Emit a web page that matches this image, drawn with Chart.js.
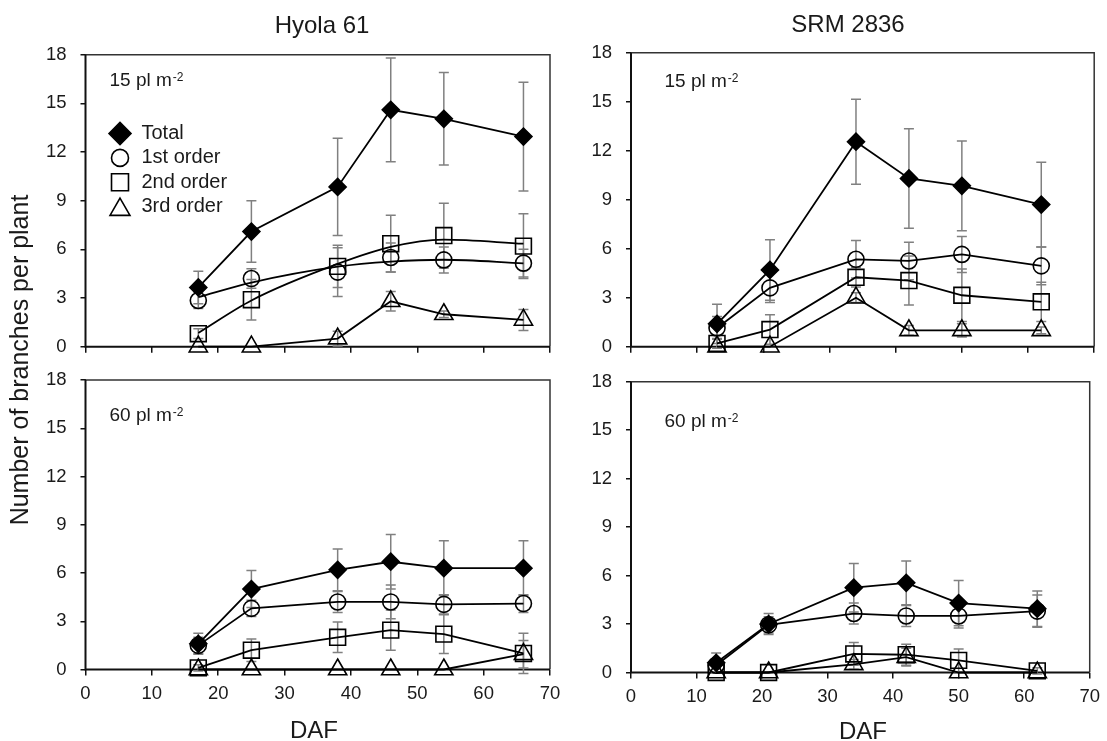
<!DOCTYPE html>
<html>
<head>
<meta charset="utf-8">
<title>Branch number per plant</title>
<script src="https://cdn.jsdelivr.net/npm/chart.js@4/dist/chart.umd.min.js"></script>
<style>
  html, body { margin: 0; padding: 0; background: #fff; }
  #wrap { position: relative; width: 1107px; height: 741px; }
  #wrap canvas { position: absolute; left: 0; top: 0; pointer-events: none; }
</style>
</head>
<body>
<div id="wrap">
  <canvas id="hyola15" width="1107" height="741"></canvas>
  <canvas id="srm15" width="1107" height="741"></canvas>
  <canvas id="hyola60" width="1107" height="741"></canvas>
  <canvas id="srm60" width="1107" height="741"></canvas>
</div>
<script>
// ---- sampling dates (days after flowering) ----
const dafHyola = [17, 25, 38, 46, 54, 66];
const dafSRM   = [13, 21, 34, 42, 50, 62];

// ---- axis tick labels ----
const xTickValues = [0, 10, 20, 30, 40, 50, 60, 70];
const yTickValues = [0, 3, 6, 9, 12, 15, 18];

// ---- Hyola 61, 15 pl m-2 ----
const hyola15Total     = [3.65, 7.1, 9.85, 14.6, 14.05, 12.95];
const hyola15TotalErr  = [1.0, 1.9, 3.0, 3.2, 2.85, 3.35];
const hyola15First     = [2.85, 4.2, 4.6, 5.5, 5.35, 5.15];
const hyola15FirstErr  = [0.5, 0.6, 1.5, 0.9, 0.8, 0.85];
const hyola15Second    = [0.8, 2.9, 4.95, 6.35, 6.85, 6.2];
const hyola15SecondErr = [0.3, 1.25, 1.3, 1.75, 2.0, 2.0];
const hyola15Third     = [0, 0, 0.5, 2.8, 2.0, 1.65];
const hyola15ThirdErr  = [0, 0, 0.45, 0.6, 0.2, 0.65];
// fitted trend curves for 1st and 2nd order branches
const hyola15FirstFit  = [3.05, 3.95, 4.93, 5.24, 5.36, 5.14];
const hyola15SecondFit = [0.85, 2.85, 5.1, 6.15, 6.6, 6.35];

// ---- SRM 2836, 15 pl m-2 ----
const srm15Total     = [1.4, 4.7, 12.55, 10.3, 9.85, 8.7];
const srm15TotalErr  = [1.2, 1.85, 2.6, 3.05, 2.75, 2.6];
const srm15First     = [1.15, 3.6, 5.35, 5.25, 5.65, 4.95];
const srm15FirstErr  = [0.7, 0.9, 1.15, 1.15, 1.1, 1.15];
const srm15Second    = [0.2, 1.05, 4.25, 4.05, 3.15, 2.75];
const srm15SecondErr = [0.3, 0.9, 0.6, 1.5, 1.6, 1.2];
const srm15Third     = [0, 0, 3.0, 1.0, 1.0, 1.0];
const srm15ThirdErr  = [0, 0, 0.3, 0.3, 0.4, 0.2];

// ---- Hyola 61, 60 pl m-2 ----
const hyola60Total     = [1.6, 5.0, 6.2, 6.7, 6.3, 6.3];
const hyola60TotalErr  = [0.65, 1.15, 1.3, 1.7, 1.7, 1.7];
const hyola60First     = [1.5, 3.8, 4.2, 4.2, 4.05, 4.1];
const hyola60FirstErr  = [0.5, 0.5, 0.65, 1.05, 0.6, 0.55];
const hyola60Second    = [0.1, 1.2, 2.0, 2.45, 2.2, 1.0];
const hyola60SecondErr = [0.2, 0.7, 0.95, 1.25, 1.2, 1.25];
const hyola60Third     = [0, 0, 0, 0, 0, 0.95];
const hyola60ThirdErr  = [0, 0, 0, 0, 0, 0.85];

// ---- SRM 2836, 60 pl m-2 ----
const srm60Total     = [0.6, 3.0, 5.25, 5.55, 4.3, 3.95];
const srm60TotalErr  = [0.6, 0.65, 1.5, 1.35, 1.4, 1.1];
const srm60First     = [0.45, 2.95, 3.65, 3.5, 3.5, 3.8];
const srm60FirstErr  = [0.4, 0.5, 0.65, 0.65, 0.75, 1.0];
const srm60Second    = [0, 0, 1.15, 1.1, 0.75, 0.1];
const srm60SecondErr = [0, 0, 0.7, 0.65, 0.7, 0.2];
const srm60Third     = [0, 0, 0.5, 0.95, 0, 0];
const srm60ThirdErr  = [0, 0, 0.3, 0.55, 0, 0];

const seriesLabels = ['Total', '1st order', '2nd order', '3rd order'];

const FONT = '"Liberation Sans", Arial, Helvetica, sans-serif';
const INK = '#1a1a1a';

const markerStyles = [
  { pointStyle: 'rectRot',  radius: 8.5,  fill: '#000',          legendRadius: 11 },
  { pointStyle: 'circle',   radius: 8,    fill: 'rgba(0,0,0,0)', legendRadius: 8.5 },
  { pointStyle: 'rect',     radius: 11.2, fill: 'rgba(0,0,0,0)', legendRadius: 12 },
  { pointStyle: 'triangle', radius: 10.5, fill: 'rgba(0,0,0,0)', legendRadius: 11.5 }
];

function toPoints(xs, ys) { return xs.map((x, i) => ({ x: x, y: ys[i] })); }

function markerSet(idx, xs, ys, errs, showLine) {
  const m = markerStyles[idx];
  return {
    label: seriesLabels[idx],
    data: toPoints(xs, ys),
    errors: errs,
    markerIndex: idx,
    showLine: showLine,
    borderColor: '#000',
    borderWidth: 1.8,
    backgroundColor: m.fill,
    pointStyle: m.pointStyle,
    pointRadius: m.radius,
    pointBorderWidth: 1.6,
    pointBorderColor: '#000',
    pointBackgroundColor: m.fill,
    tension: 0,
    clip: false
  };
}

function fitSet(label, xs, ys) {
  return {
    label: label,
    data: toPoints(xs, ys),
    isFit: true,
    showLine: true,
    borderColor: '#000',
    borderWidth: 1.8,
    pointRadius: 0,
    cubicInterpolationMode: 'monotone',
    clip: false
  };
}

// frame: heavy left/bottom axes, lighter top/right border
const frame = {
  id: 'frame',
  beforeDatasetsDraw(chart) {
    const { ctx, chartArea: a } = chart;
    ctx.save();
    ctx.strokeStyle = '#333';
    ctx.lineWidth = 1.5;
    ctx.beginPath();
    ctx.moveTo(a.left, a.top); ctx.lineTo(a.right, a.top); ctx.lineTo(a.right, a.bottom);
    ctx.stroke();
    ctx.strokeStyle = '#111';
    ctx.lineWidth = 2;
    ctx.beginPath();
    ctx.moveTo(a.left, a.top); ctx.lineTo(a.left, a.bottom); ctx.lineTo(a.right, a.bottom);
    ctx.stroke();
    ctx.restore();
  }
};

// symmetric error bars with caps, read from dataset.errors
const errorBars = {
  id: 'errorBars',
  beforeDatasetsDraw(chart) {
    const ctx = chart.ctx, ys = chart.scales.y;
    ctx.save();
    ctx.strokeStyle = '#808080';
    ctx.lineWidth = 1.5;
    chart.data.datasets.forEach((ds, di) => {
      if (!ds.errors) return;
      const meta = chart.getDatasetMeta(di);
      meta.data.forEach((pt, i) => {
        const e = ds.errors[i];
        if (!e) return;
        const v = ds.data[i].y;
        const x = pt.x;
        const yHi = ys.getPixelForValue(v + e);
        const yLo = ys.getPixelForValue(v - e);
        ctx.beginPath();
        ctx.moveTo(x, yHi); ctx.lineTo(x, yLo);
        ctx.moveTo(x - 5, yHi); ctx.lineTo(x + 5, yHi);
        ctx.moveTo(x - 5, yLo); ctx.lineTo(x + 5, yLo);
        ctx.stroke();
      });
    });
    ctx.restore();
  }
};

function drawMarker(ctx, style, r, x, y, fill) {
  ctx.fillStyle = fill;
  ctx.strokeStyle = '#000';
  ctx.lineWidth = 1.6;
  if (Chart.helpers && Chart.helpers.drawPoint) {
    Chart.helpers.drawPoint(ctx, { pointStyle: style, radius: r, rotation: 0, borderWidth: 1.6 }, x, y);
    return;
  }
  ctx.beginPath();
  ctx.arc(x, y, r, 0, Math.PI * 2);
  ctx.fill(); ctx.stroke();
}

// in-plot legend (marker + series name)
const innerLegend = {
  id: 'innerLegend',
  afterDatasetsDraw(chart, args, opts) {
    if (!opts || !opts.show) return;
    const ctx = chart.ctx;
    ctx.save();
    const rows = chart.data.datasets.filter(d => !d.isFit);
    rows.forEach((ds, k) => {
      const m = markerStyles[ds.markerIndex];
      const y = opts.y + k * opts.step;
      const dy = m.pointStyle === 'triangle' ? m.legendRadius / 4 : 0;
      drawMarker(ctx, m.pointStyle, m.legendRadius, opts.x, y + dy, m.fill);
      ctx.fillStyle = INK;
      ctx.font = opts.size + 'px ' + FONT;
      ctx.textAlign = 'left';
      ctx.textBaseline = 'middle';
      ctx.fillText(ds.label, opts.textX, y);
    });
    ctx.restore();
  }
};

// panel titles, density notes, axis titles
const panelText = {
  id: 'panelText',
  afterDraw(chart, args, opts) {
    const ctx = chart.ctx;
    (opts.items || []).forEach(it => {
      ctx.save();
      ctx.fillStyle = INK;
      ctx.font = it.size + 'px ' + FONT;
      ctx.textAlign = it.align || 'left';
      ctx.textBaseline = 'alphabetic';
      ctx.translate(it.x, it.y);
      if (it.rotate) ctx.rotate(it.rotate);
      ctx.fillText(it.text, 0, 0);
      if (it.sup) {
        const w = ctx.measureText(it.text).width;
        ctx.font = it.supSize + 'px ' + FONT;
        ctx.fillText(it.sup, w + 1, -it.supRaise);
      }
      ctx.restore();
    });
  }
};

const Y_AXIS_W = 60, X_AXIS_H = 40, W = 1107, H = 741;

function makePanel(id, area, datasets, showXLabels, textItems, legendOpts) {
  new Chart(document.getElementById(id), {
    type: 'scatter',
    data: { datasets: datasets },
    plugins: [frame, errorBars, innerLegend, panelText],
    options: {
      responsive: false,
      animation: false,
      events: [],
      layout: {
        padding: {
          left: area.l - Y_AXIS_W,
          top: area.t,
          right: W - area.r,
          bottom: H - area.b - X_AXIS_H
        }
      },
      scales: {
        x: {
          type: 'linear', position: 'bottom', min: 0, max: 70,
          afterBuildTicks: s => { s.ticks = xTickValues.map(v => ({ value: v })); },
          afterFit: s => { s.height = X_AXIS_H; },
          ticks: {
            autoSkip: false, maxRotation: 0, padding: 7,
            color: INK, font: { family: FONT, size: 18.5 },
            callback: v => showXLabels ? String(v) : ''
          },
          grid: { display: true, drawOnChartArea: false, drawTicks: true, tickLength: 6, color: '#111', lineWidth: 1.5 },
          border: { display: false }
        },
        y: {
          type: 'linear', position: 'left', min: 0, max: 18,
          afterBuildTicks: s => { s.ticks = yTickValues.map(v => ({ value: v })); },
          afterFit: s => { s.width = Y_AXIS_W; },
          ticks: { padding: 14, color: INK, font: { family: FONT, size: 18.5 } },
          grid: { display: true, drawOnChartArea: false, drawTicks: true, tickLength: 5, color: '#111', lineWidth: 1.5 },
          border: { display: false }
        }
      },
      plugins: {
        legend: { display: false },
        tooltip: { enabled: false },
        innerLegend: legendOpts || { show: false },
        panelText: { items: textItems }
      }
    }
  });
}

function density(n, x, y) {
  return { text: n + ' pl m', sup: '-2', supSize: 12, supRaise: 5, size: 19, x: x, y: y };
}

// Hyola 61, 15 plants per m2 (fitted curves for 1st/2nd order)
makePanel('hyola15', { l: 85.5, t: 54.7, r: 550, b: 346.7 }, [
  markerSet(0, dafHyola, hyola15Total, hyola15TotalErr, true),
  markerSet(1, dafHyola, hyola15First, hyola15FirstErr, false),
  markerSet(2, dafHyola, hyola15Second, hyola15SecondErr, false),
  markerSet(3, dafHyola, hyola15Third, hyola15ThirdErr, true),
  fitSet('1st order fit', dafHyola, hyola15FirstFit),
  fitSet('2nd order fit', dafHyola, hyola15SecondFit)
], false, [
  { text: 'Hyola 61', size: 24, align: 'center', x: 322, y: 33 },
  density('15', 109.5, 86),
  { text: 'Number of branches per plant', size: 25, align: 'center', x: 28, y: 360, rotate: -Math.PI / 2 }
], { show: true, x: 120, textX: 141.5, y: 133.5, step: 24.4, size: 20 });

// SRM 2836, 15 plants per m2
makePanel('srm15', { l: 631, t: 52.7, r: 1095, b: 346.7 }, [
  markerSet(0, dafSRM, srm15Total, srm15TotalErr, true),
  markerSet(1, dafSRM, srm15First, srm15FirstErr, true),
  markerSet(2, dafSRM, srm15Second, srm15SecondErr, true),
  markerSet(3, dafSRM, srm15Third, srm15ThirdErr, true)
], false, [
  { text: 'SRM 2836', size: 24, align: 'center', x: 848, y: 32 },
  density('15', 664.5, 87.3)
]);

// Hyola 61, 60 plants per m2
makePanel('hyola60', { l: 85.5, t: 380, r: 550, b: 669.5 }, [
  markerSet(0, dafHyola, hyola60Total, hyola60TotalErr, true),
  markerSet(1, dafHyola, hyola60First, hyola60FirstErr, true),
  markerSet(2, dafHyola, hyola60Second, hyola60SecondErr, true),
  markerSet(3, dafHyola, hyola60Third, hyola60ThirdErr, true)
], true, [
  density('60', 109.5, 421),
  { text: 'DAF', size: 24, align: 'center', x: 314, y: 738 }
]);

// SRM 2836, 60 plants per m2
makePanel('srm60', { l: 631, t: 381.7, r: 1095, b: 672.5 }, [
  markerSet(0, dafSRM, srm60Total, srm60TotalErr, true),
  markerSet(1, dafSRM, srm60First, srm60FirstErr, true),
  markerSet(2, dafSRM, srm60Second, srm60SecondErr, true),
  markerSet(3, dafSRM, srm60Third, srm60ThirdErr, true)
], true, [
  density('60', 664.5, 426.5),
  { text: 'DAF', size: 24, align: 'center', x: 863, y: 739 }
]);
</script>
</body>
</html>
